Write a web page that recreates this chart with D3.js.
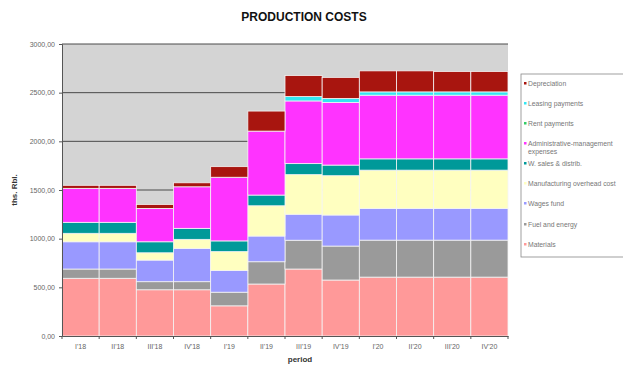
<!DOCTYPE html>
<html><head><meta charset="utf-8">
<script src="https://cdn.jsdelivr.net/npm/d3@7"></script>
<style>body{margin:0;background:#fff;}svg{display:block;font-family:Arial,"Liberation Sans",sans-serif;}</style>
</head><body><svg id="c" width="623" height="365"></svg>
<script>
const categories = ["I'18","II'18","III'18","IV'18","I'19","II'19","III'19","IV'19","I'20","II'20","III'20","IV'20"];
const materials    = [593, 593, 475, 475, 310, 534, 688, 575, 605, 605, 605, 605];
const fuel         = [95, 95, 83, 83, 140, 229, 296, 349, 380, 380, 380, 380];
const wages        = [280, 280, 222, 342, 222, 264, 267, 319, 325, 325, 325, 325];
const overhead     = [87, 87, 75, 93, 195, 311, 407, 404, 394, 394, 394, 394];
const sales        = [113, 113, 113, 113, 110, 110, 113, 109, 116, 116, 116, 116];
const admin        = [349, 349, 343, 427, 654, 657, 644, 644, 654, 654, 654, 654];
const rent         = [0, 0, 0, 0, 0, 0, 0, 0, 0, 0, 0, 0];
const leasing      = [0, 0, 0, 0, 0, 0, 45, 41, 34, 34, 34, 34];
const depreciation = [31, 31, 41, 41, 109, 206, 216, 216, 216, 216, 210, 210];
const yTicks = [0, 500, 1000, 1500, 2000, 2500, 3000];

const seriesNames = ["Materials","Fuel and energy","Wages fund","Manufacturing  overhead cost","W. sales & distrib.","Administrative-management expenses","Rent payments","Leasing payments","Depreciation"];
const seriesData = [materials, fuel, wages, overhead, sales, admin, rent, leasing, depreciation];
const colors = ["#ff9999","#9a9a9a","#9999ff","#ffffc0","#009999","#ff33ff","#33cc66","#33e6f2","#a8150f"];

const rows = categories.map((c,i)=>{const r={cat:c}; seriesNames.forEach((s,j)=>r[s]=seriesData[j][i]); return r;});
const stack = d3.stack().keys(seriesNames)(rows);

const svg = d3.select("#c");
const L=62,R=508,T=44,B=336;
const x = d3.scaleBand().domain(categories).range([L,R]).padding(0);
const y = d3.scaleLinear().domain([0,3000]).range([B,T]);

svg.append("rect").attr("x",L).attr("y",T).attr("width",R-L).attr("height",B-T).attr("fill","#d4d4d4");
svg.append("g").selectAll("line").data(yTicks.filter(d=>d>0)).join("line")
  .attr("x1",L).attr("x2",R).attr("y1",d=>y(d)).attr("y2",d=>y(d)).attr("stroke","#4a4a4a").attr("stroke-width",1);

svg.append("g").selectAll("g").data(stack).join("g").attr("fill",(d,i)=>colors[i])
  .selectAll("rect").data(d=>d).join("rect")
  .attr("x",d=>x(d.data.cat)).attr("width",x.bandwidth())
  .attr("y",d=>y(d[1])).attr("height",d=>Math.max(0,y(d[0])-y(d[1])))
  .attr("stroke",d=>(d[1]-d[0])>0?"#f4f4f4":"none").attr("stroke-width",0.8);

// axes
const ya = svg.append("g").attr("transform",`translate(${L},0)`).call(d3.axisLeft(y).tickValues(yTicks).tickSize(3).tickFormat(d=>d3.format(".2f")(d).replace(".",",")));
ya.select(".domain").attr("stroke","#555");
ya.selectAll(".tick line").attr("stroke","#555");
ya.selectAll("text").attr("font-size",7).attr("fill","#666").attr("x",-7);

const xa = svg.append("g").attr("transform",`translate(0,${B})`).call(d3.axisBottom(x).tickSize(0).tickPadding(8));
xa.select(".domain").attr("stroke","#555");
xa.selectAll("text").attr("font-size",7).attr("fill","#666");
svg.append("g").selectAll("line").data(categories.concat(["end"])).join("line")
  .attr("x1",(d,i)=>L+i*x.bandwidth()).attr("x2",(d,i)=>L+i*x.bandwidth())
  .attr("y1",B).attr("y2",B+3).attr("stroke","#555");

svg.append("text").attr("x",304).attr("y",21).attr("text-anchor","middle").attr("font-weight","bold").attr("font-size",12).attr("fill","#111").text("PRODUCTION COSTS");
svg.append("text").attr("x",300).attr("y",362).attr("text-anchor","middle").attr("font-weight","bold").attr("font-size",8).attr("fill","#333").text("period");
svg.append("text").attr("transform","translate(17,190) rotate(-90)").attr("text-anchor","middle").attr("font-weight","bold").attr("font-size",8).attr("fill","#333").text("ths. Rbl.");

// legend
svg.append("rect").attr("x",521).attr("y",74).attr("width",110).attr("height",183).attr("fill","#fff").attr("stroke","#888").attr("stroke-width",0.8);
const legItems = [
  {i:8, y:85, lines:["Depreciation"]},
  {i:7, y:105, lines:["Leasing payments"]},
  {i:6, y:125, lines:["Rent payments"]},
  {i:5, y:145, lines:["Administrative-management","expenses"]},
  {i:4, y:165, lines:["W. sales & distrib."]},
  {i:3, y:185, lines:["Manufacturing  overhead cost"]},
  {i:2, y:205, lines:["Wages fund"]},
  {i:1, y:226, lines:["Fuel and energy"]},
  {i:0, y:246, lines:["Materials"]}
];
const lg = svg.append("g").selectAll("g").data(legItems).join("g");
lg.append("rect").attr("x",524).attr("y",d=>d.y-3).attr("width",2.5).attr("height",2.5).attr("fill",d=>colors[d.i]);
lg.append("text").attr("x",528).attr("y",d=>d.y+0.5).attr("font-size",6.8).attr("fill","#777")
  .selectAll("tspan").data(d=>d.lines).join("tspan").attr("x",528).attr("dy",(d,k)=>k?8.5:0).text(d=>d);
</script></body></html>
